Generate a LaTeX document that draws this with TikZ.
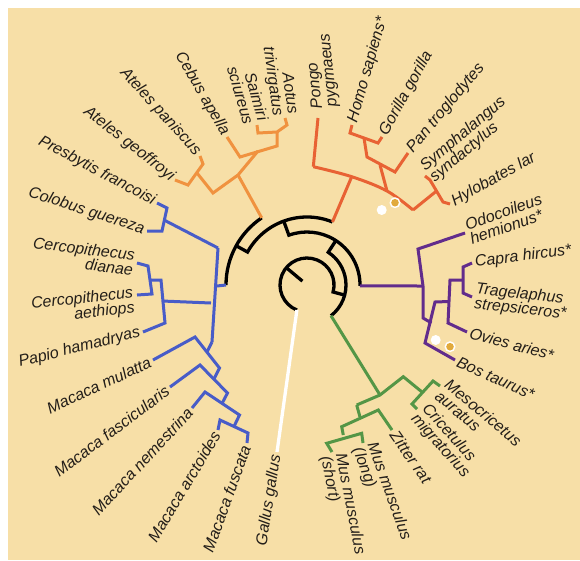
\documentclass[tikz,border=0pt]{standalone}
\usepackage{fontspec}
\setmainfont{Liberation Sans}
\definecolor{bgc}{RGB}{247,223,167}
\definecolor{nwc}{RGB}{240,146,63}
\definecolor{apc}{RGB}{232,98,52}
\definecolor{owc}{RGB}{72,92,200}
\definecolor{puc}{RGB}{98,44,140}
\definecolor{grc}{RGB}{84,150,70}
\definecolor{dotc}{RGB}{225,170,60}
\definecolor{txc}{RGB}{35,30,25}
\begin{document}
\begin{tikzpicture}[x=1pt,y=1pt,
  br/.style={line width=3pt, line join=miter, line cap=butt},
  blk/.style={br, black, line width=3.3pt},
  nw/.style={br, nwc}, ap/.style={br, apc}, ow/.style={br, owc},
  pu/.style={br, puc}, gr/.style={br, grc}, wh/.style={br, white, line width=3.3pt},
  lab/.style={font=\fontsize{16}{15}\selectfont\itshape, inner sep=3pt, text=txc},
  rl/.style={lab, anchor=west, align=left},
  ll/.style={lab, anchor=east, align=right}]
\useasboundingbox (0,0) rectangle (580,-560);
\fill[white] (0,0) rectangle (580,-560);
\fill[bgc] (8,-8) rectangle (580,-560);
\coordinate (C) at (307,-285);
% tips
\coordinate (tAgeo) at (175,-180); \coordinate (tApan) at (200,-156);
\coordinate (tCeb) at (227,-137); \coordinate (tSai) at (257,-125);
\coordinate (tAot) at (285,-118);
\coordinate (tPon) at (318,-118); \coordinate (tHom) at (352,-125);
\coordinate (tGor) at (382,-137); \coordinate (tPan) at (408,-153);
\coordinate (tSym) at (425,-176); \coordinate (tHyl) at (450,-204);
\coordinate (tOdo) at (465,-233); \coordinate (tCap) at (472,-263);
\coordinate (tTra) at (472,-297); \coordinate (tOvi) at (467,-332);
\coordinate (tBos) at (455,-360);
\coordinate (tMes) at (440,-386); \coordinate (tCri) at (417,-409);
\coordinate (tZit) at (392,-430); \coordinate (tMusL) at (363,-443);
\coordinate (tMusS) at (332,-452);
\coordinate (tGal) at (277,-452);
\coordinate (tFus) at (247,-443); \coordinate (tArc) at (218,-430);
\coordinate (tNem) at (192,-408); \coordinate (tFas) at (170,-387);
\coordinate (tMul) at (153,-360); \coordinate (tPap) at (143,-332);
\coordinate (tAeth) at (137,-295); \coordinate (tDian) at (137,-263);
\coordinate (tColo) at (147,-231); \coordinate (tPres) at (157,-203);
% label anchor points (where they differ from tips)
\coordinate (pPon) at (326,-111);
\coordinate (pAeth) at (137,-301);
% black backbone
\draw[blk] ([shift={(C)}]140:27) -- ([shift={(C)}]140:6);
\draw[blk] ([shift={(C)}]248:27) arc[start angle=248,end angle=-15,radius=27] -- ([shift={(C)}]-15:39);
\draw[blk] ([shift={(C)}]-52:39) arc[start angle=-52,end angle=57,radius=39] -- ([shift={(C)}]57:53);
\draw[blk] ([shift={(C)}]-1:53) arc[start angle=-1,end angle=110,radius=53] -- ([shift={(C)}]110:68);
\draw[blk] ([shift={(C)}]68:68) arc[start angle=68,end angle=151,radius=68] -- ([shift={(C)}]151:81);
\draw[blk] ([shift={(C)}]124:81) arc[start angle=124,end angle=180,radius=81];
% Gallus
\draw[wh] ([shift={(C)}]248:27) -- (tGal);
% New World monkeys
\draw[nw] ([shift={(C)}]124:81) -- (238,-175);
\draw[nw] (197,-173) -- (213,-193) -- (238,-175) -- (258,-151);
\draw[nw] (tAgeo) -- (188,-185) -- (203,-164) -- (tApan);
\draw[nw] (tCeb) -- (240,-157) -- (277,-146) -- (277,-132);
\draw[nw] (tSai) -- (258,-133) -- (277,-132) -- (287,-125) -- (tAot);
% apes
\draw[ap] ([shift={(C)}]68:68) -- (351.7,-176.7);
\draw[ap] (tPon) -- (313.3,-166.7);
\draw[ap] plot[smooth, tension=0.6] coordinates {(313.3,-166.7) (351.7,-176.7) (387,-191) (413,-210)};
\draw[ap] (387,-191) -- (380,-165);
\draw[ap] (364,-138) -- (367,-157) -- (395,-172) -- (tPan);
\draw[ap] (tHom) -- (350,-133) -- (378,-143) -- (tGor);
\draw[ap] (413,-210) -- (436.5,-191);
\draw[ap] (tSym) -- (430,-180) -- (443,-202) -- (tHyl);
% Old World monkeys
\draw[ow] ([shift={(C)}]180:81) -- (217,-286);
\draw[ow] (218,-248) -- (212,-342);
\draw[ow] (218,-248) -- (164,-220);
\draw[ow] (tPres) -- (167,-208) -- (162,-231) -- (tColo);
\draw[ow] (211,-303) -- (162,-301);
\draw[ow] (150,-280) -- (161,-280) -- (165,-323) -- (tPap);
\draw[ow] (tDian) -- (148,-266) -- (152,-294) -- (tAeth);
\draw[ow] (212,-342) -- (207,-352);
\draw[ow] (tMul) -- (195,-337) -- (219.5,-368) -- (214,-379);
\draw[ow] (tFas) -- (200,-365) -- (227.5,-393) -- (222,-403.5);
\draw[ow] (tNem) -- (205,-392) -- (239.5,-415) -- (234,-426.5);
\draw[ow] (tArc) -- (220,-420) -- (248,-433) -- (tFus);
% artiodactyls
\draw[pu] ([shift={(C)}]-1:53) -- (423,-286);
\draw[pu] (tOdo) -- (418,-249) -- (423,-286) -- (423,-318) -- (431.5,-323);
\draw[pu] (tBos) -- (425,-343) -- (435,-302) -- (449,-301.5);
\draw[pu] (tOvi) -- (448,-323) -- (450,-280) -- (463,-280);
\draw[pu] (tCap) -- (463,-267) -- (463,-293) -- (tTra);
% rodents
\draw[gr] ([shift={(C)}]-52:39) -- (380,-395);
\draw[gr] (356.7,-405) -- (380,-395) -- (403.3,-376.7) -- (422,-392);
\draw[gr] (tCri) -- (412,-404) -- (433,-381) -- (tMes);
\draw[gr] (356.7,-405) -- (360,-417);
\draw[gr] (tZit) -- (378.3,-410) -- (341.7,-426.7) -- (343.3,-435);
\draw[gr] (tMusL) -- (361.7,-433.3) -- (326.7,-443.3) -- (tMusS);
% dots
\fill[white] (381.7,-210) circle (5);
\fill[white] (395,-202.7) circle (5.5); \fill[dotc] (395,-202.7) circle (3.8);
\fill[white] (435.7,-340) circle (5);
\fill[white] (450,-346.7) circle (5.5); \fill[dotc] (450,-346.7) circle (3.8);
% labels left side
\node[ll, rotate=-38] (lAgeo) at (tAgeo) {Ateles geoffroyi};
\node[ll, rotate=-48] (lApan) at (tApan) {Ateles paniscus};
\node[ll, rotate=-60] (lCeb) at (tCeb) {Cebus apella};
\node[ll, rotate=-74] (lSai) at (tSai) {Saimiri\\sciureus};
\node[ll, rotate=-82] (lAot) at (tAot) {Aotus\\trivirgatus};
\node[ll, rotate=-28] (lPres) at (tPres) {Presbytis francoisi};
\node[ll, rotate=-18] (lColo) at (tColo) {Colobus guereza};
\node[ll, rotate=-7] (lDian) at (tDian) {Cercopithecus\\dianae};
\node[ll, rotate=6] (lAeth) at (pAeth) {Cercopithecus\\aethiops};
\node[ll, rotate=14] (lPap) at (tPap) {Papio hamadryas};
\node[ll, rotate=25] (lMul) at (tMul) {Macaca mulatta};
\node[ll, rotate=37] (lFas) at (tFas) {Macaca fascicularis};
\node[ll, rotate=47] (lNem) at (tNem) {Macaca nemestrina};
\node[ll, rotate=59] (lArc) at (tArc) {Macaca arctoides};
\node[ll, rotate=70] (lFus) at (tFus) {Macaca fuscata};
\node[ll, rotate=81] (lGal) at (tGal) {Gallus gallus};
% labels right side
\node[rl, rotate=96] (lPon) at (pPon) {Pongo\\pygmaeus};
\node[rl, rotate=74] (lHom) at (tHom) {Homo sapiens*};
\node[rl, rotate=61] (lGor) at (tGor) {Gorilla gorilla};
\node[rl, rotate=50] (lPan) at (tPan) {Pan troglodytes};
\node[rl, rotate=40] (lSym) at (tSym) {Symphalangus\\syndactylus};
\node[rl, rotate=29] (lHyl) at (tHyl) {Hylobates lar};
\node[rl, rotate=19] (lOdo) at (tOdo) {Odocoileus\\hemionus*};
\node[rl, rotate=7] (lCap) at (tCap) {Capra hircus*};
\node[rl, rotate=-6] (lTra) at (tTra) {Tragelaphus\\strepsiceros*};
\node[rl, rotate=-15] (lOvi) at (tOvi) {Ovies aries*};
\node[rl, rotate=-24] (lBos) at (tBos) {Bos taurus*};
\node[rl, rotate=-40] (lMes) at (tMes) {Mesocricetus\\auratus};
\node[rl, rotate=-48] (lCri) at (tCri) {Cricetulus\\migratorius};
\node[rl, rotate=-55] (lZit) at (tZit) {Zitter rat};
\node[rl, rotate=-70] (lMusL) at (tMusL) {Mus musculus\\(long)};
\node[rl, rotate=-79] (lMusS) at (tMusS) {Mus musculus\\(short)};
\end{tikzpicture}
\end{document}
